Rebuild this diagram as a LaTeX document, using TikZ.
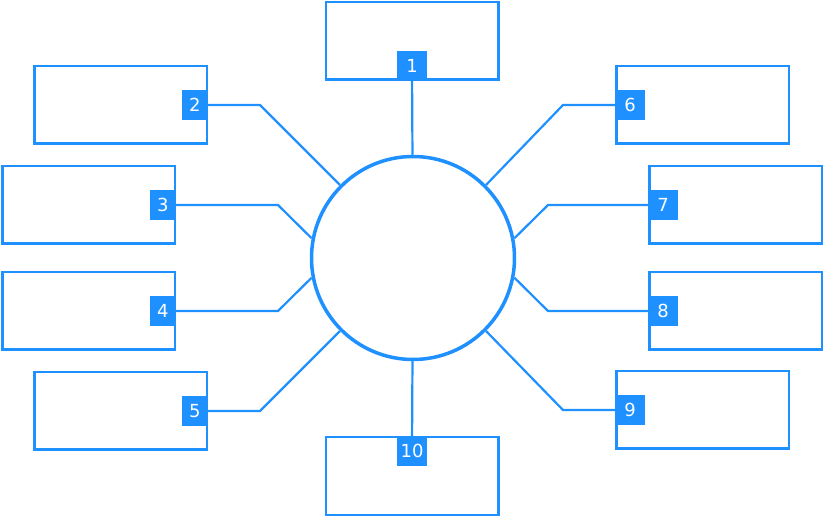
\documentclass[tikz,border=0pt]{standalone}
\usepackage{fontspec}
\setmainfont{DejaVu Sans}
\definecolor{dodger}{HTML}{1E90FF}
\begin{document}
\begin{tikzpicture}[x=1pt, y=-1pt,
  box/.style={shape=rectangle, draw=dodger, line width=2.5pt, minimum width=172.5pt, minimum height=77.5pt},
  num/.style={shape=rectangle, fill=dodger, text=white, inner sep=0pt, minimum width=30pt, minimum height=30pt, font=\fontsize{18}{21}\selectfont},
  hub/.style={shape=circle, draw=dodger, line width=3.5pt, minimum size=203pt, inner sep=0pt},
  link/.style={-, line width=2.2pt, draw=dodger}]
\useasboundingbox (0,0) rectangle (825,518);
\node[hub] (c) at (413,258) {};
\node[box] (b1) at (412,41) {};
\node[box] (b2) at (120.5,105) {};
\node[box] (b3) at (88.5,205) {};
\node[box] (b4) at (88.5,311) {};
\node[box] (b5) at (120.5,411) {};
\node[box] (b6) at (702.5,105) {};
\node[box] (b7) at (735.5,205) {};
\node[box] (b8) at (735.5,311) {};
\node[box] (b9) at (702.5,410) {};
\node[box] (b10) at (412,476) {};
\node[num, anchor=south] (l1) at (b1.south) {1};
\node[num, minimum width=26pt, anchor=east] (l2) at (b2.east) {2};
\node[num, minimum width=26pt, anchor=east] (l3) at (b3.east) {3};
\node[num, minimum width=26pt, anchor=east] (l4) at (b4.east) {4};
\node[num, minimum width=26pt, anchor=east] (l5) at (b5.east) {5};
\node[num, anchor=west] (l6) at (b6.west) {6};
\node[num, anchor=west] (l7) at (b7.west) {7};
\node[num, anchor=west] (l8) at (b8.west) {8};
\node[num, anchor=west] (l9) at (b9.west) {9};
\node[num, anchor=north] (l10) at (b10.north) {10};
\path [link] (l1) edge (c);
\path [link] (l2.east) -- ++(52,0) -- (c.135);
\path [link] (l3.east) -- ++(102,0) -- (c.169);
\path [link] (l4.east) -- ++(102,0) -- (c.191);
\path [link] (l5.east) -- ++(52,0) -- (c.225);
\path [link] (l6.west) -- ++(-52,0) -- (c.45);
\path [link] (l7.west) -- ++(-100,0) -- (c.11);
\path [link] (l8.west) -- ++(-100,0) -- (c.-11);
\path [link] (l9.west) -- ++(-52,0) -- (c.-45);
\path [link] (c) edge (l10);
\end{tikzpicture}
\end{document}
